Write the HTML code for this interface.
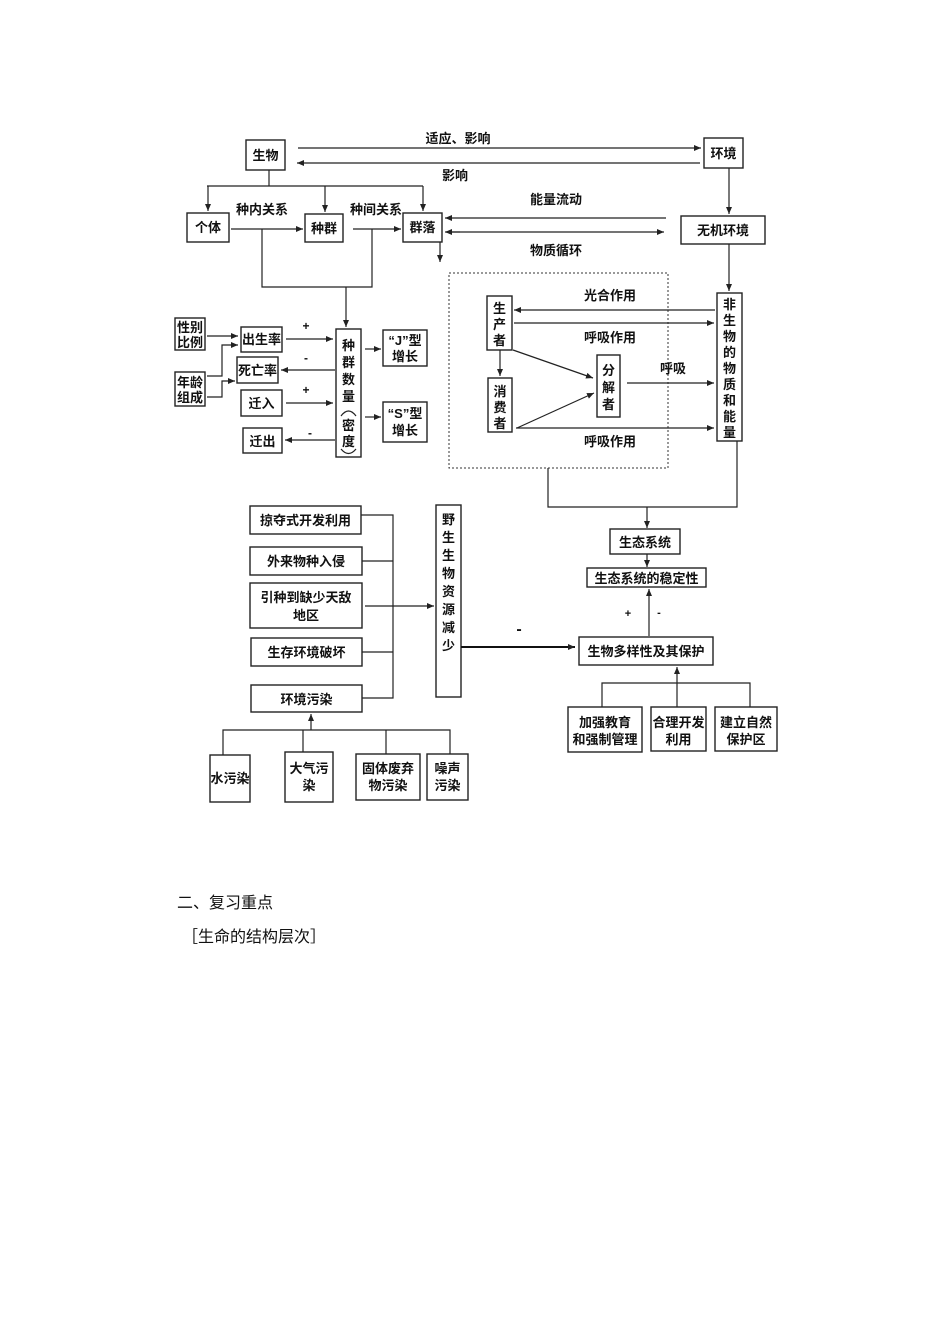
<!DOCTYPE html>
<html><head><meta charset="utf-8"><style>
html,body{margin:0;padding:0;background:#fff;}
svg{display:block}
text{font-family:"Liberation Sans","Noto Sans CJK SC",sans-serif;font-weight:bold;fill:#111;}
.b{fill:#fff;stroke:#222;stroke-width:1.4}
.l{fill:none;stroke:#222;stroke-width:1.2}
</style></head><body>
<svg width="950" height="1344" viewBox="0 0 950 1344" xmlns="http://www.w3.org/2000/svg">
<defs><marker id="a" markerWidth="8" markerHeight="8" refX="7" refY="4" orient="auto" markerUnits="userSpaceOnUse"><path d="M0,1 L7,4 L0,7 Z" fill="#222"/></marker></defs>
<g font-size="13">
<rect class="b" x="246" y="140" width="39" height="30"/><text x="265.5" y="160" text-anchor="middle">生物</text>
<rect class="b" x="704" y="138" width="39" height="30"/><text x="723.5" y="158" text-anchor="middle">环境</text>
<line class="l" x1="298" y1="148" x2="701" y2="148" marker-end="url(#a)"/>
<text x="458" y="143" text-anchor="middle">适应、影响</text>
<line class="l" x1="700" y1="163" x2="297" y2="163" marker-end="url(#a)"/>
<text x="455" y="180" text-anchor="middle">影响</text>
<polyline class="l" points="269,170 269,186"/>
<line class="l" x1="207" y1="186" x2="423" y2="186"/>
<line class="l" x1="208" y1="186" x2="208" y2="211" marker-end="url(#a)"/>
<line class="l" x1="325" y1="186" x2="325" y2="212" marker-end="url(#a)"/>
<line class="l" x1="423" y1="186" x2="423" y2="211" marker-end="url(#a)"/>
<rect class="b" x="187" y="213" width="42" height="29"/><text x="208" y="232" text-anchor="middle">个体</text>
<rect class="b" x="305" y="214" width="38" height="28"/><text x="324" y="233" text-anchor="middle">种群</text>
<rect class="b" x="403" y="213" width="39" height="29"/><text x="422.5" y="232" text-anchor="middle">群落</text>
<text x="262" y="214" text-anchor="middle">种内关系</text>
<text x="376" y="214" text-anchor="middle">种间关系</text>
<line class="l" x1="231" y1="229" x2="303" y2="229" marker-end="url(#a)"/>
<line class="l" x1="353" y1="229" x2="401" y2="229" marker-end="url(#a)"/>
<polyline class="l" points="262,229 262,287 372,287 372,229"/>
<line class="l" x1="346" y1="287" x2="346" y2="327" marker-end="url(#a)"/>
<line class="l" x1="440" y1="242" x2="440" y2="262" marker-end="url(#a)"/>
<rect class="b" x="336" y="329" width="25" height="128"/>
<text x="348.5" y="350" text-anchor="middle">种</text><text x="348.5" y="367" text-anchor="middle">群</text><text x="348.5" y="384" text-anchor="middle">数</text><text x="348.5" y="401" text-anchor="middle">量</text>
<path class="l" d="M341,416 Q348.5,406 356,416"/>
<text x="348.5" y="430" text-anchor="middle">密</text><text x="348.5" y="446" text-anchor="middle">度</text>
<path class="l" d="M341,449 Q348.5,458 356,449"/>
<rect class="b" x="175" y="318" width="30" height="32"/><text x="190" y="332" text-anchor="middle">性别</text><text x="190" y="347" text-anchor="middle">比例</text>
<rect class="b" x="175" y="372" width="30" height="34"/><text x="190" y="387" text-anchor="middle">年龄</text><text x="190" y="402" text-anchor="middle">组成</text>
<rect class="b" x="241" y="327" width="41" height="25"/><text x="261.5" y="344" text-anchor="middle">出生率</text>
<rect class="b" x="237" y="357" width="41" height="26"/><text x="257.5" y="375" text-anchor="middle">死亡率</text>
<rect class="b" x="241" y="390" width="41" height="26"/><text x="261.5" y="408" text-anchor="middle">迁入</text>
<rect class="b" x="243" y="428" width="39" height="25"/><text x="262.5" y="446" text-anchor="middle">迁出</text>
<line class="l" x1="207" y1="336" x2="238" y2="336" marker-end="url(#a)"/>
<polyline class="l" points="207,376 222,376 222,345 238,345" marker-end="url(#a)"/>
<polyline class="l" points="207,397 222,397 222,381 235,381" marker-end="url(#a)"/>
<line class="l" x1="286" y1="339" x2="333" y2="339" marker-end="url(#a)"/>
<line class="l" x1="335" y1="370" x2="281" y2="370" marker-end="url(#a)"/>
<line class="l" x1="286" y1="403" x2="333" y2="403" marker-end="url(#a)"/>
<line class="l" x1="335" y1="440" x2="285" y2="440" marker-end="url(#a)"/>
<text x="306" y="330" text-anchor="middle" font-size="12">+</text>
<text x="306" y="362" text-anchor="middle" font-size="12">-</text>
<text x="306" y="394" text-anchor="middle" font-size="12">+</text>
<text x="310" y="437" text-anchor="middle" font-size="12">-</text>
<rect class="b" x="383" y="330" width="44" height="36"/><text x="405" y="345" text-anchor="middle">“J”型</text><text x="405" y="361" text-anchor="middle">增长</text>
<rect class="b" x="383" y="402" width="44" height="40"/><text x="405" y="418" text-anchor="middle">“S”型</text><text x="405" y="435" text-anchor="middle">增长</text>
<line class="l" x1="365" y1="349" x2="381" y2="349" marker-end="url(#a)"/>
<line class="l" x1="365" y1="417" x2="381" y2="417" marker-end="url(#a)"/>
<line class="l" x1="729" y1="168" x2="729" y2="214" marker-end="url(#a)"/>
<rect class="b" x="681" y="216" width="84" height="28"/><text x="723" y="235" text-anchor="middle">无机环境</text>
<line class="l" x1="666" y1="218" x2="445" y2="218" marker-end="url(#a)"/>
<text x="556" y="204" text-anchor="middle">能量流动</text>
<line class="l" x1="446" y1="232" x2="664" y2="232" marker-end="url(#a)"/>
<line class="l" x1="460" y1="232" x2="445" y2="232" marker-end="url(#a)"/>
<text x="556" y="255" text-anchor="middle">物质循环</text>
<line class="l" x1="729" y1="244" x2="729" y2="291" marker-end="url(#a)"/>
<rect x="449" y="273" width="219" height="195" fill="none" stroke="#333" stroke-width="1" stroke-dasharray="2,2"/>
<rect class="b" x="487" y="296" width="25" height="54"/><text x="499.5" y="313" text-anchor="middle">生</text><text x="499.5" y="329" text-anchor="middle">产</text><text x="499.5" y="345" text-anchor="middle">者</text>
<rect class="b" x="488" y="378" width="24" height="54"/><text x="500" y="396" text-anchor="middle">消</text><text x="500" y="412" text-anchor="middle">费</text><text x="500" y="428" text-anchor="middle">者</text>
<rect class="b" x="597" y="355" width="23" height="62"/><text x="608.5" y="375" text-anchor="middle">分</text><text x="608.5" y="392" text-anchor="middle">解</text><text x="608.5" y="409" text-anchor="middle">者</text>
<rect class="b" x="717" y="293" width="25" height="148"/>
<text x="729.5" y="309" text-anchor="middle">非</text><text x="729.5" y="325" text-anchor="middle">生</text><text x="729.5" y="341" text-anchor="middle">物</text><text x="729.5" y="357" text-anchor="middle">的</text><text x="729.5" y="373" text-anchor="middle">物</text><text x="729.5" y="389" text-anchor="middle">质</text><text x="729.5" y="405" text-anchor="middle">和</text><text x="729.5" y="421" text-anchor="middle">能</text><text x="729.5" y="437" text-anchor="middle">量</text>
<line class="l" x1="715" y1="310" x2="514" y2="310" marker-end="url(#a)"/>
<text x="610" y="300" text-anchor="middle">光合作用</text>
<line class="l" x1="514" y1="323" x2="714" y2="323" marker-end="url(#a)"/>
<text x="610" y="342" text-anchor="middle">呼吸作用</text>
<line class="l" x1="627" y1="383" x2="714" y2="383" marker-end="url(#a)"/>
<text x="673" y="373" text-anchor="middle">呼吸</text>
<line class="l" x1="516" y1="428" x2="714" y2="428" marker-end="url(#a)"/>
<text x="610" y="446" text-anchor="middle">呼吸作用</text>
<line class="l" x1="513" y1="350" x2="593" y2="378" marker-end="url(#a)"/>
<line class="l" x1="517" y1="428" x2="594" y2="393" marker-end="url(#a)"/>
<line class="l" x1="500" y1="350" x2="500" y2="376" marker-end="url(#a)"/>
<polyline class="l" points="548,468 548,507 737,507 737,441"/>
<line class="l" x1="647" y1="507" x2="647" y2="528" marker-end="url(#a)"/>
<rect class="b" x="610" y="529" width="70" height="25"/><text x="645" y="547" text-anchor="middle">生态系统</text>
<line class="l" x1="647" y1="554" x2="647" y2="567" marker-end="url(#a)"/>
<rect class="b" x="587" y="568" width="119" height="19"/><text x="646.5" y="583" text-anchor="middle">生态系统的稳定性</text>
<line class="l" x1="649" y1="636" x2="649" y2="589" marker-end="url(#a)"/>
<text x="628" y="617" text-anchor="middle" font-size="11">+</text>
<text x="659" y="616" text-anchor="middle" font-size="11">-</text>
<rect class="b" x="579" y="637" width="134" height="28"/><text x="646" y="656" text-anchor="middle">生物多样性及其保护</text>
<polyline class="l" points="602,707 602,683 750,683 750,707"/>
<line class="l" x1="677" y1="707" x2="677" y2="667" marker-end="url(#a)"/>
<rect class="b" x="568" y="707" width="74" height="45"/><text x="605" y="727" text-anchor="middle">加强教育</text><text x="605" y="744" text-anchor="middle">和强制管理</text>
<rect class="b" x="651" y="707" width="55" height="44"/><text x="678.5" y="727" text-anchor="middle">合理开发</text><text x="678.5" y="744" text-anchor="middle">利用</text>
<rect class="b" x="715" y="707" width="62" height="44"/><text x="746" y="727" text-anchor="middle">建立自然</text><text x="746" y="744" text-anchor="middle">保护区</text>
<rect class="b" x="250" y="506" width="111" height="28"/><text x="305.5" y="525" text-anchor="middle">掠夺式开发利用</text>
<rect class="b" x="250" y="547" width="112" height="28"/><text x="306" y="566" text-anchor="middle">外来物种入侵</text>
<rect class="b" x="250" y="583" width="112" height="45"/><text x="306" y="602" text-anchor="middle">引种到缺少天敌</text><text x="306" y="620" text-anchor="middle">地区</text>
<rect class="b" x="251" y="638" width="111" height="28"/><text x="306.5" y="657" text-anchor="middle">生存环境破坏</text>
<rect class="b" x="251" y="685" width="111" height="27"/><text x="306.5" y="704" text-anchor="middle">环境污染</text>
<polyline class="l" points="361,515 393,515 393,698 362,698"/>
<line class="l" x1="362" y1="561" x2="393" y2="561"/>
<line class="l" x1="362" y1="652" x2="393" y2="652"/>
<line class="l" x1="365" y1="606" x2="434" y2="606" marker-end="url(#a)"/>
<rect class="b" x="436" y="505" width="25" height="192"/>
<text x="448.5" y="524" text-anchor="middle">野</text><text x="448.5" y="542" text-anchor="middle">生</text><text x="448.5" y="560" text-anchor="middle">生</text><text x="448.5" y="578" text-anchor="middle">物</text><text x="448.5" y="596" text-anchor="middle">资</text><text x="448.5" y="614" text-anchor="middle">源</text><text x="448.5" y="632" text-anchor="middle">减</text><text x="448.5" y="650" text-anchor="middle">少</text>
<line x1="461" y1="647" x2="575" y2="647" stroke="#111" stroke-width="2" marker-end="url(#a)"/>
<text x="519" y="634" text-anchor="middle" font-size="16">-</text>
<line class="l" x1="311" y1="730" x2="311" y2="714" marker-end="url(#a)"/>
<polyline class="l" points="223,755 223,730 450,730 450,754"/>
<line class="l" x1="303" y1="730" x2="303" y2="752"/>
<line class="l" x1="386" y1="730" x2="386" y2="754"/>
<rect class="b" x="210" y="755" width="40" height="47"/><text x="230" y="783" text-anchor="middle">水污染</text>
<rect class="b" x="285" y="752" width="48" height="50"/><text x="309" y="773" text-anchor="middle">大气污</text><text x="309" y="790" text-anchor="middle">染</text>
<rect class="b" x="356" y="754" width="64" height="46"/><text x="388" y="773" text-anchor="middle">固体废弃</text><text x="388" y="790" text-anchor="middle">物污染</text>
<rect class="b" x="427" y="754" width="41" height="46"/><text x="447.5" y="773" text-anchor="middle">噪声</text><text x="447.5" y="790" text-anchor="middle">污染</text>
</g>
<text x="177" y="908" font-size="16" style="font-weight:normal">二、复习重点</text>
<text x="182" y="942" font-size="16" style="font-weight:normal">［生命的结构层次］</text>
</svg>
</body></html>
